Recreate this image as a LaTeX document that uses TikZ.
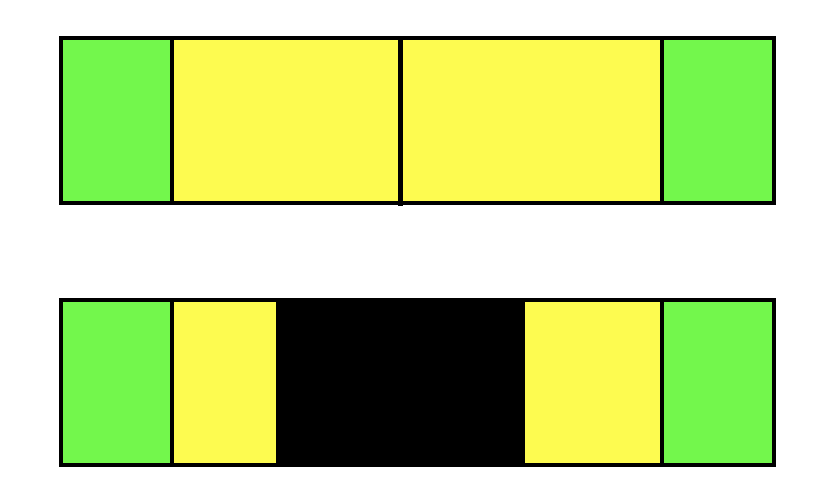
\documentclass[tikz,border=0pt]{standalone}
\definecolor{cgreen}{RGB}{115,247,76}
\definecolor{cyellow}{RGB}{253,251,80}
\tikzset{
  edge/.style={draw=black, line width=4pt},
  midline/.style={draw=black, line width=5pt}
}
\begin{document}
\begin{tikzpicture}[x=1pt,y=-1pt]
\useasboundingbox (0,0) rectangle (832,500);
% top bar
\fill[cgreen] (61,38) rectangle (172,203);
\fill[cyellow] (172,38) rectangle (662,203);
\fill[cgreen] (662,38) rectangle (774,203);
\draw[edge] (172,38) -- (172,203);
\draw[edge] (662,38) -- (662,203);
\draw[midline] (400,38) -- (400,205.5);
\draw[edge] (61,38) rectangle (774,203);
% bottom bar
\fill[cgreen] (61,300) rectangle (172,465);
\fill[cyellow] (172,300) rectangle (276,465);
\fill[black] (276,300) rectangle (525,465);
\fill[cyellow] (525,300) rectangle (662,465);
\fill[cgreen] (662,300) rectangle (774,465);
\draw[edge] (172,300) -- (172,465);
\draw[edge] (662,300) -- (662,465);
\draw[edge] (61,300) rectangle (774,465);
\end{tikzpicture}
\end{document}
